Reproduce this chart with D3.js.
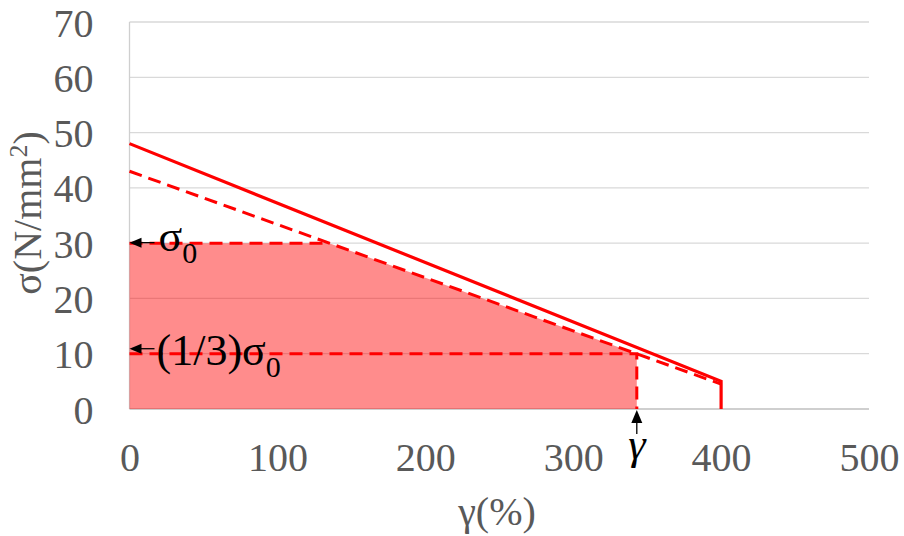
<!DOCTYPE html>
<html><head><meta charset="utf-8">
<script src="https://cdn.jsdelivr.net/npm/d3@7"></script>
<style>body{margin:0;background:#fff}svg{display:block}</style>
</head><body>
<svg id="c" width="904" height="536"></svg>
<script>
const xTicks = [0, 100, 200, 300, 400, 500];
const yTicks = [0, 10, 20, 30, 40, 50, 60, 70];
const solidLine = [[0, 48], [400, 5], [400, 0]];
const dashedLine = [[0, 43], [400, 4.5]];
const sigma0 = 30;
const sigmaThird = 10;
const gammaX = 343;
const kneeX = 135;
const fillArea = [[0, 0], [0, sigma0], [kneeX, sigma0], [gammaX, sigmaThird], [gammaX, 0]];
const sigma0Line = [[0, sigma0], [kneeX, sigma0]];
const thirdLine = [[0, sigmaThird], [gammaX, sigmaThird], [gammaX, 0]];

const svg = d3.select("#c");
const x = d3.scaleLinear().domain([0, 500]).range([129.5, 869]);
const y = d3.scaleLinear().domain([0, 70]).range([409, 22]);
const serif = "'Liberation Serif','Times New Roman',serif";
const red = "#ff0000";

// gridlines
svg.append("g").selectAll("line").data(yTicks.filter(d => d > 0)).join("line")
  .attr("x1", x(0)).attr("x2", x(500))
  .attr("y1", d => y(d)).attr("y2", d => y(d))
  .attr("stroke", "#d9d9d9").attr("stroke-width", 1.3);
// axis lines
svg.append("line").attr("x1", x(0)).attr("x2", x(0)).attr("y1", y(70)).attr("y2", y(0))
  .attr("stroke", "#cfcfcf").attr("stroke-width", 1.3);
svg.append("line").attr("x1", x(0)).attr("x2", x(500)).attr("y1", y(0)).attr("y2", y(0))
  .attr("stroke", "#bfbfbf").attr("stroke-width", 1.5);

// axes labels via d3 axes
const gx = svg.append("g").attr("transform", `translate(0,${y(0)})`)
  .call(d3.axisBottom(x).tickValues(xTicks).tickSize(0).tickFormat(d3.format("d")));
gx.select(".domain").remove();
gx.selectAll("text").attr("y", 62).attr("dy", null)
  .attr("font-family", serif).attr("font-size", 40).attr("fill", "#595959");

const gy = svg.append("g").attr("transform", `translate(${x(0)},0)`)
  .call(d3.axisLeft(y).tickValues(yTicks).tickSize(0).tickFormat(d3.format("d")));
gy.select(".domain").remove();
gy.selectAll("text").attr("x", -36).attr("dy", "0.35em")
  .attr("font-family", serif).attr("font-size", 40).attr("fill", "#595959");

// fill
const line = d3.line().x(d => x(d[0])).y(d => y(d[1]));
svg.append("path").attr("d", line(fillArea) + "Z")
  .attr("fill", red).attr("fill-opacity", 0.45).attr("stroke", "none");

// lines
svg.append("path").attr("d", line(solidLine)).attr("fill", "none")
  .attr("stroke", red).attr("stroke-width", 3.2);
[dashedLine, sigma0Line, thirdLine].forEach(p => {
  svg.append("path").attr("d", line(p)).attr("fill", "none")
    .attr("stroke", red).attr("stroke-width", 3).attr("stroke-dasharray", "13,7");
});

// arrows
function arrowLeft(yy) {
  const x0 = x(0);
  svg.append("line").attr("x1", x0 + 10).attr("x2", x0 + 25).attr("y1", yy).attr("y2", yy)
    .attr("stroke", "#000").attr("stroke-width", 1.3);
  svg.append("path").attr("d", `M${x0},${yy}L${x0 + 12},${yy - 5}L${x0 + 12},${yy + 5}Z`).attr("fill", "#000");
}
arrowLeft(y(sigma0) - 0.5);
arrowLeft(y(sigmaThird) - 5);

const gxp = x(gammaX);
svg.append("line").attr("x1", gxp).attr("x2", gxp).attr("y1", y(0) + 10).attr("y2", y(0) + 25)
  .attr("stroke", "#000").attr("stroke-width", 1.3);
svg.append("path").attr("d", `M${gxp},${y(0) + 1}L${gxp - 5.5},${y(0) + 14}L${gxp + 5.5},${y(0) + 14}Z`).attr("fill", "#000");

// annotation texts
const t1 = svg.append("text").attr("x", x(0) + 29).attr("y", y(sigma0) + 8)
  .attr("font-family", serif).attr("font-size", 44).attr("fill", "#000");
t1.append("tspan").text("σ");
t1.append("tspan").attr("font-size", 30).attr("dy", 12).text("0");

const t2 = svg.append("text").attr("x", x(0) + 27).attr("y", y(sigmaThird) + 11)
  .attr("font-family", serif).attr("font-size", 44).attr("fill", "#000");
t2.append("tspan").text("(1/3)σ");
t2.append("tspan").attr("font-size", 30).attr("dy", 12).text("0");

svg.append("text").attr("x", gxp).attr("y", y(0) + 50).attr("text-anchor", "middle")
  .attr("font-family", serif).attr("font-style", "italic").attr("font-size", 44).attr("fill", "#000").text("γ");

// axis titles
svg.append("text").attr("x", 497).attr("y", 525).attr("text-anchor", "middle")
  .attr("font-family", serif).attr("font-size", 40).attr("fill", "#595959").text("γ(%)");
const yt = svg.append("text").attr("transform", "translate(41,213) rotate(-90)")
  .attr("text-anchor", "middle").attr("font-family", serif).attr("font-size", 40).attr("fill", "#595959");
yt.append("tspan").text("σ(N/mm");
yt.append("tspan").attr("font-size", 26).attr("dy", -14).text("2");
yt.append("tspan").attr("dy", 14).text(")");
</script>
</body></html>
